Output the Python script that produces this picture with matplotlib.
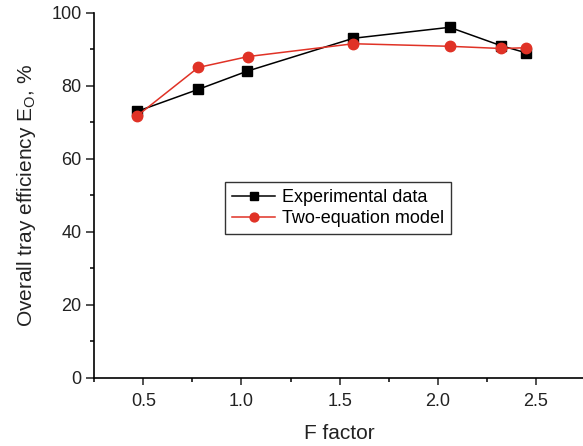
import matplotlib
matplotlib.use("Agg")
import matplotlib.pyplot as plt
from matplotlib.ticker import MultipleLocator, FormatStrFormatter

plt.rcParams['font.family'] = ['Liberation Sans', 'DejaVu Sans']
plt.rcParams['mathtext.fontset'] = 'custom'
plt.rcParams['mathtext.rm'] = 'Liberation Sans'

# F factor vs overall tray efficiency
f_exp = [0.47, 0.78, 1.03, 1.57, 2.06, 2.32, 2.45]
e_exp = [73.0, 79.0, 84.0, 93.0, 96.0, 91.0, 89.0]

f_model = [0.47, 0.78, 1.035, 1.57, 2.06, 2.32, 2.45]
e_model = [71.8, 85.0, 88.0, 91.5, 90.8, 90.2, 90.4]

fig = plt.figure(figsize=(5.83, 4.46), dpi=100)
ax = fig.add_axes([0.1616, 0.1531, 0.842, 0.8184])

ax.plot(f_exp, e_exp, color='black', marker='s', markersize=7, lw=1.1,
        label='Experimental data', zorder=3)
ax.plot(f_model, e_model, color='#e03226', marker='o', markersize=7.5, lw=1.1,
        label='Two-equation model', zorder=4)

ax.set_xlim(0.25, 2.75)
ax.set_ylim(0, 100)
ax.xaxis.set_major_locator(MultipleLocator(0.5))
ax.xaxis.set_minor_locator(MultipleLocator(0.25))
ax.yaxis.set_major_locator(MultipleLocator(20))
ax.yaxis.set_minor_locator(MultipleLocator(10))
ax.xaxis.set_major_formatter(FormatStrFormatter('%.1f'))

for side in ('top', 'right'):
    ax.spines[side].set_visible(False)
for side in ('left', 'bottom'):
    ax.spines[side].set_linewidth(1.2)
ax.tick_params(which='major', length=5.5, width=1.1, labelsize=13, colors='#222222')
ax.tick_params(which='minor', length=3, width=1.1)
ax.tick_params(axis='x', which='major', length=5, pad=6)

ax.set_xlabel('F factor', fontsize=15, labelpad=10, color='#222222')
ax.set_ylabel(r'Overall tray efficiency E$_{\mathregular{O}}$, %', fontsize=15,
              labelpad=10, color='#222222')

leg = ax.legend(loc='upper left', bbox_to_anchor=(0.267, 0.535), fontsize=13,
                frameon=True, fancybox=False, edgecolor='black', handlelength=2.4,
                handletextpad=0.35, borderpad=0.38, labelspacing=0.22, borderaxespad=0,
                markerscale=0.85)
leg.get_frame().set_linewidth(1.0)

fig.savefig('out.png', dpi=100)
